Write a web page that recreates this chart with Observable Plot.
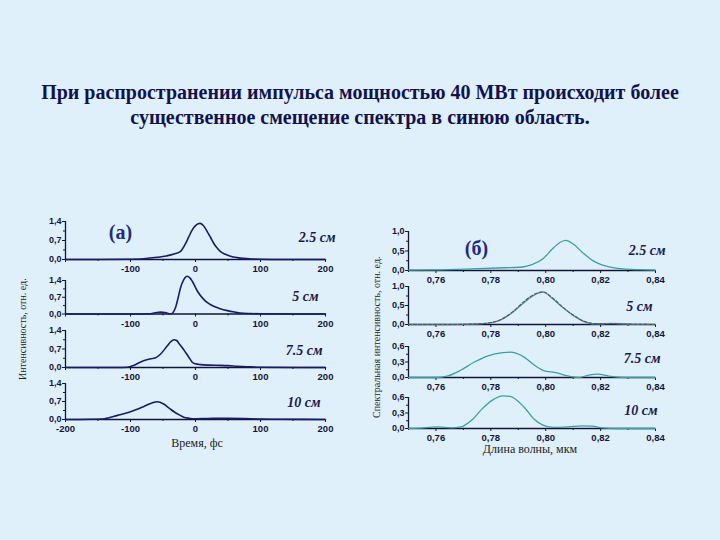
<!DOCTYPE html>
<html><head><meta charset="utf-8">
<script src="https://cdn.jsdelivr.net/npm/d3@7"></script>
<script src="https://cdn.jsdelivr.net/npm/@observablehq/plot@0.6"></script>
<style>
body{margin:0;background:#dff0fb;}
#root{position:relative;width:720px;height:540px;overflow:hidden;background:#dff0fb;}
.title{position:absolute;left:0;top:80px;width:720px;text-align:center;font-family:"Liberation Serif",serif;font-weight:bold;font-size:20px;line-height:25px;color:#12124e;}
.abs{position:absolute;white-space:nowrap;}
.pl{position:absolute;}
</style></head><body><div id="root"></div>
<script>
// ---- Data: time-domain pulses (fs vs intensity) ----
const distLabels = ["2.5 см", "5 см", "7.5 см", "10 см"];

const timeA = [-200,-150,-105,-80,-59,-45,-33,-23,-15,-10,-5,0,4,7,12,18,23,28,33,38,46,54,64,74,87,100,130,200];
const intA  = [0,0,0.01,0.03,0.08,0.13,0.2,0.3,0.6,0.85,1.09,1.25,1.32,1.33,1.25,1.03,0.82,0.6,0.43,0.3,0.19,0.12,0.07,0.04,0.02,0.01,0,0];

const timeB = [-200,-100,-69,-60,-54,-47,-38,-31,-27,-23,-18,-13,-9,-5,3,13,20,28,38,49,60,69,85,100,200];
const intB  = [0,0,0.01,0.06,0.08,0.06,0.0,0.25,0.65,1.1,1.44,1.58,1.52,1.37,0.95,0.6,0.44,0.32,0.22,0.14,0.08,0.04,0.02,0.01,0];

const timeC = [-200,-120,-105,-95,-85,-75,-69,-62,-54,-44,-38,-33,-29,-26,-20,-15,-10,-5,0,8,20,38,50,64,80,100,200];
const intC  = [0,0,0.01,0.08,0.2,0.29,0.33,0.36,0.5,0.8,0.98,1.05,1.02,0.93,0.74,0.56,0.38,0.2,0.14,0.11,0.09,0.08,0.07,0.05,0.03,0.01,0];

const timeD = [-200,-160,-140,-120,-100,-80,-68,-59,-49,-40,-33,-25,-18,-10,0,20,50,75,100,130,200];
const intD  = [0,0.01,0.03,0.16,0.3,0.5,0.63,0.69,0.6,0.43,0.3,0.18,0.09,0.05,0.03,0.04,0.05,0.04,0.015,0.01,0];

// ---- Data: spectra (µm vs spectral intensity) ----
const wlA = [0.75,0.76,0.773,0.785,0.7915,0.795,0.799,0.8025,0.8055,0.8073,0.81,0.8133,0.817,0.822,0.828,0.834,0.84];
const spA = [0.01,0.015,0.04,0.07,0.09,0.15,0.3,0.56,0.73,0.77,0.68,0.47,0.26,0.11,0.04,0.02,0.01];

const wlB  = [0.75,0.765,0.773,0.779,0.783,0.788,0.7915,0.795,0.799,0.8025,0.806,0.81,0.8145,0.817,0.82,0.824,0.83,0.84];
const spB  = [0,0,0.01,0.035,0.1,0.32,0.54,0.74,0.85,0.68,0.46,0.24,0.06,0.02,0.02,0.03,0.01,0];
const spB2 = [0,0,0.01,0.04,0.11,0.34,0.57,0.76,0.86,0.7,0.47,0.25,0.07,0.03,0.02,0.02,0.01,0];

const wlC = [0.75,0.76,0.7644,0.769,0.774,0.779,0.7844,0.787,0.792,0.7956,0.799,0.804,0.808,0.812,0.8156,0.819,0.823,0.829,0.84];
const spC = [0,0,0.03,0.14,0.3,0.42,0.48,0.49,0.4,0.25,0.14,0.09,0.03,0,0.045,0.065,0.026,0,0];

const wlD = [0.75,0.7556,0.7606,0.7656,0.769,0.773,0.777,0.7806,0.7844,0.787,0.792,0.7956,0.799,0.803,0.808,0.813,0.817,0.8206,0.826,0.84];
const spD = [0,0.013,0.03,0.013,0.03,0.16,0.39,0.55,0.63,0.62,0.42,0.19,0.065,0.02,0.03,0.05,0.045,0.013,0,0];

// ---- Tick values ----
const timeTicks = [-200,-100,0,100,200];
const timeMinor = [-150,-50,50,150];
const intTicks = [0,0.7,1.4];
const intMinor = [0.35,1.05];
const wlTicks = [0.76,0.78,0.80,0.82,0.84];
const wlMinor = [0.75,0.77,0.79,0.81,0.83];
const spTicksHi = [0,0.5,1.0], spMinorHi = [0.25,0.75];
const spTicksLo = [0,0.3,0.6], spMinorLo = [0.15,0.45];

const root = document.getElementById("root");
const navy = "#1b1b6a", teal = "#3b9f9f", axisCol = "#14143a";
const comma = (d, n) => d.toFixed(n).replace(".", ",");
const zip = (xs, ys) => xs.map((x, i) => ({x, y: ys[i]}));

function panel(o) {
  const mT = 8, mB = 18;
  const marks = [
    Plot.axisX({ticks: o.xTicks, tickSize: 3, tickPadding: 3, label: null, tickFormat: o.xFmt, fontWeight: "bold", fontSize: 9.5}),
    Plot.axisX({ticks: o.xMinor, tickSize: 2, label: null, tickFormat: () => ""}),
    Plot.axisY({ticks: o.yTicks, tickSize: 3, tickPadding: 1, label: null, tickFormat: o.yFmt, fontWeight: "bold", fontSize: 9}),
    Plot.axisY({ticks: o.yMinor, tickSize: 2, label: null, tickFormat: () => ""}),
    Plot.ruleY([o.yDomain[0]], {stroke: axisCol, strokeWidth: 1.3}),
    Plot.ruleX([o.xDomain[0]], {y1: o.yDomain[0], y2: o.yDomain[1], stroke: axisCol, strokeWidth: 1.3}),
  ];
  for (const s of o.series) {
    marks.push(Plot.line(s.data, {x: "x", y: "y", stroke: s.stroke, strokeWidth: s.w || 1.5, strokeDasharray: s.dash, curve: "monotone-x"}));
  }
  marks.push(Plot.text([o.label], {text: d => d, frameAnchor: "top-right", textAnchor: "end", lineAnchor: "middle",
    dx: o.ldx, dy: o.ldy, fontFamily: "Liberation Serif", fontStyle: "italic", fontWeight: "bold", fontSize: 14, fill: "#1a1a50"}));
  if (o.tag) marks.push(Plot.text([o.tag], {text: d => d, frameAnchor: "top-left", textAnchor: "middle", lineAnchor: "middle",
    dx: o.tdx, dy: o.tdy, fontFamily: "Liberation Serif", fontWeight: "bold", fontSize: 20, fill: "#1f2a82"}));
  const svg = Plot.plot({
    width: o.width, height: mT + o.innerH + mB,
    marginLeft: o.mL, marginRight: o.mR, marginTop: mT, marginBottom: mB,
    x: {domain: o.xDomain}, y: {domain: o.yDomain},
    style: {background: "transparent", overflow: "visible", fontFamily: "Liberation Sans, Arial", color: axisCol},
    marks
  });
  svg.classList.add("pl");
  svg.style.left = o.left + "px";
  svg.style.top = (o.topY - mT) + "px";
  root.appendChild(svg);
}

// Left panel (time domain)
const leftSeries = [[timeA, intA], [timeB, intB], [timeC, intC], [timeD, intD]];
const leftGeom = [
  {topY: 221, innerH: 38, ldx: 10, ldy: 16},
  {topY: 279.5, innerH: 33.5, ldx: -7, ldy: 16.5},
  {topY: 330, innerH: 37, ldx: -3, ldy: 20},
  {topY: 383, innerH: 36, ldx: -5, ldy: 19},
];
leftGeom.forEach((g, i) => {
  panel({
    left: 25, width: 320, mL: 40, mR: 20, topY: g.topY, innerH: g.innerH,
    xDomain: [-200, 200], yDomain: [0, 1.4],
    xTicks: timeTicks, xMinor: timeMinor, yTicks: intTicks, yMinor: intMinor,
    xFmt: d => (i < 3 && d === -200) ? "" : String(d), yFmt: d => comma(d, 1),
    series: [{data: zip(...leftSeries[i]), stroke: navy, w: 1.6}],
    label: distLabels[i], ldx: g.ldx, ldy: g.ldy,
    tag: i === 0 ? "(а)" : null, tdx: 55, tdy: 11
  });
});

// Right panel (spectra)
const rightSeries = [
  [{data: zip(wlA, spA), stroke: teal, w: 1.3}],
  [{data: zip(wlB, spB), stroke: teal, w: 1.3}, {data: zip(wlB, spB2), stroke: "#6a4a5a", w: 1.1, dash: "3,2"}],
  [{data: zip(wlC, spC), stroke: teal, w: 1.3}],
  [{data: zip(wlD, spD), stroke: teal, w: 1.3}],
];
const rightGeom = [
  {topY: 231, innerH: 39, yd: [0, 1.0], yt: spTicksHi, ym: spMinorHi, ldx: 10, ldy: 19},
  {topY: 286, innerH: 38, yd: [0, 1.0], yt: spTicksHi, ym: spMinorHi, ldx: -3, ldy: 20},
  {topY: 346, innerH: 31, yd: [0, 0.6], yt: spTicksLo, ym: spMinorLo, ldx: 5, ldy: 12},
  {topY: 397, innerH: 31, yd: [0, 0.6], yt: spTicksLo, ym: spMinorLo, ldx: 2, ldy: 13},
];
rightGeom.forEach((g, i) => {
  panel({
    left: 368, width: 307, mL: 40, mR: 20, topY: g.topY, innerH: g.innerH,
    xDomain: [0.75, 0.84], yDomain: g.yd,
    xTicks: wlTicks, xMinor: wlMinor, yTicks: g.yt, yMinor: g.ym,
    xFmt: d => comma(d, 2), yFmt: d => comma(d, 1),
    series: rightSeries[i],
    label: distLabels[i], ldx: g.ldx, ldy: g.ldy,
    tag: i === 0 ? "(б)" : null, tdx: 68, tdy: 17
  });
});

// Texts around the plots
function addText(txt, css) {
  const d = document.createElement("div");
  d.className = "abs";
  d.textContent = txt;
  Object.assign(d.style, css);
  root.appendChild(d);
  return d;
}
const title = document.createElement("div");
title.className = "title";
title.innerHTML = "При распространении импульса мощностью 40 МВт происходит более<br>существенное смещение спектра в синюю область.";
root.appendChild(title);

addText("Время, фс", {left: "147px", width: "100px", textAlign: "center", top: "436px", fontFamily: "Liberation Serif", fontSize: "12px", color: "#222"});
addText("Длина волны, мкм", {left: "460px", width: "140px", textAlign: "center", top: "442px", fontFamily: "Liberation Serif", fontSize: "12px", color: "#222"});
// Y-axis titles, rotated, starting where the reference places them
addText("Интенсивность, отн. ед.", {left: "17px", top: "380px", fontFamily: "Liberation Serif", fontSize: "10px", color: "#222",
  transformOrigin: "0 0", transform: "rotate(-90deg)"});
addText("Спектральная интенсивность, отн. ед.", {left: "371px", top: "418px", fontFamily: "Liberation Serif", fontSize: "10px", color: "#222",
  transformOrigin: "0 0", transform: "rotate(-90deg)"});
</script></body></html>
